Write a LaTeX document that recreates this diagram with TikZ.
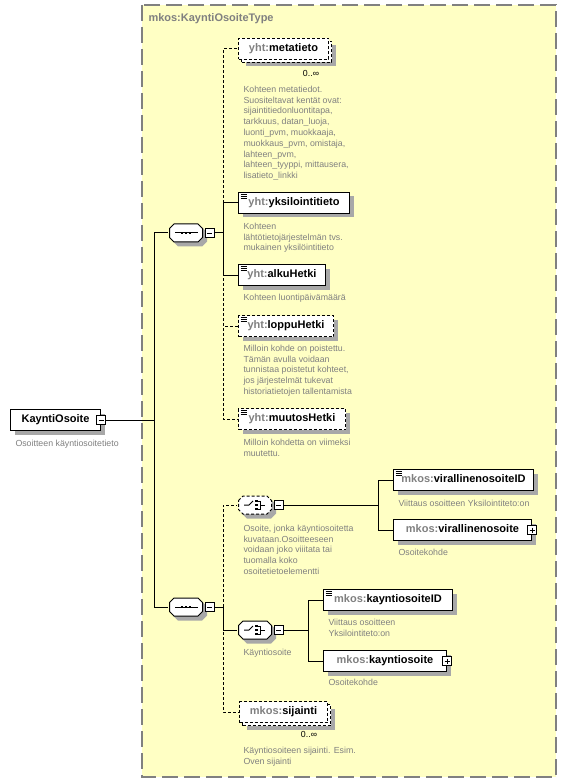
\documentclass[tikz,border=0pt]{standalone}
\usepackage{fontspec}
\setmainfont{Liberation Sans}
\usetikzlibrary{positioning}

\definecolor{typefill}{RGB}{255,255,196}
\definecolor{typeline}{RGB}{128,128,128}
\definecolor{docgray}{RGB}{128,128,128}
\definecolor{nsgray}{RGB}{128,128,128}
\definecolor{shadowgray}{RGB}{168,168,168}

\begin{document}
\begin{tikzpicture}[x=1pt, y=-1pt, line width=1pt,
    typebox/.style={draw=typeline, fill=typefill, line width=1.5pt, dash pattern=on 16pt off 6pt},
    title/.style={anchor=west, inner sep=0pt, text=nsgray, font=\fontsize{11}{13}\selectfont\bfseries},
    doc/.style={anchor=north west, inner sep=0pt, align=left, text=docgray, font=\fontsize{8.8}{10.8}\selectfont},
    card/.style={inner sep=0pt, font=\fontsize{8.8}{10.8}\selectfont},
    opt/.style={dash pattern=on 3pt off 2pt},
    elem/.style={draw, fill=white, anchor=west, minimum width=#1, minimum height=21pt, inner xsep=0pt,
      text height=8pt, text depth=2.5pt, font=\fontsize{11}{13}\selectfont\bfseries},
    multi/.style={elem=#1, opt},
    boxshadow/.style={fill=shadowgray, draw=none, anchor=west, minimum width=#1, minimum height=21pt, inner sep=0pt},
    simple/.style={path picture={
        \foreach \k in {2pt,4pt,6pt}
          \draw[solid, line width=0.7pt] ([shift={(2pt,-\k)}]path picture bounding box.north west) -- ++(6,0);}},
    tog/.style={draw, fill=white, minimum size=9pt, inner sep=0pt},
    minus/.style={tog, path picture={
        \draw[line width=0.8pt] ([xshift=2pt]path picture bounding box.west) -- ([xshift=-2pt]path picture bounding box.east);}},
    plus/.style={tog, path picture={
        \draw[line width=0.8pt] ([xshift=2pt]path picture bounding box.west) -- ([xshift=-2pt]path picture bounding box.east)
          ([yshift=-2pt]path picture bounding box.north) -- ([yshift=2pt]path picture bounding box.south);}},
    octo/.style={minimum width=35pt, minimum height=20pt, inner sep=0pt},
    octshadow/.style={octo, path picture={
        \fill[shadowgray, shift={(path picture bounding box.center)}]
          (-17,-4.5) -- (-12,-9.5) -- (12,-9.5) -- (17,-4.5) -- (17,4.5) -- (12,9.5) -- (-12,9.5) -- (-17,4.5) -- cycle;}},
    seq/.style={octo, path picture={
        \begin{scope}[shift={(path picture bounding box.center)}]
          \filldraw[fill=white] (-16.5,-4.5) -- (-12,-9) -- (12,-9) -- (16.5,-4.5) -- (16.5,4.5) -- (12,9) -- (-12,9) -- (-16.5,4.5) -- cycle;
          \draw[solid] (-11,0) -- (12,0);
          \foreach \d in {-4,0,4}
            \fill[black] (\d-1.4,-1.4) rectangle (\d+1.4,1.4);
        \end{scope}}},
    choice/.style={octo, path picture={
        \begin{scope}[shift={(path picture bounding box.center)}]
          \filldraw[fill=white] (-16.5,-4.5) -- (-12,-9) -- (12,-9) -- (16.5,-4.5) -- (16.5,4.5) -- (12,9) -- (-12,9) -- (-16.5,4.5) -- cycle;
          \draw[solid] (-11,0) -- (-6,0) -- (-2,-4);
          \foreach \d in {-4,0,4}
            \fill[black] (0,\d-1.3) rectangle (2.6,\d+1.3);
          \draw[solid] (3,-4) -- (5,-4) -- (5,4) -- (3,4) (5,0) -- (10,0);
        \end{scope}}}
  ]

  % Type box
  \fill[white, use as bounding box] (0,0) rectangle (566,783);
  \draw[typebox] (142,5) rectangle (556,777);
  \node[title] (tname) at (148,19) {mkos:KayntiOsoiteType};

  % Root element
  \node[boxshadow=90pt] at (14,424) {};
  \node[elem=90pt] (ko) at (10,420) {KayntiOsoite};
  \node[minus] (ko-m) at (ko.east) {};
  \node[doc] (ko-d) at (15,439.5) {Osoitteen käyntiosoitetieto};

  % First sequence
  \node[octshadow] at (190,237) {};
  \node[seq] (seq1) at (186,233) {};
  \node[minus, right=0.5pt of seq1] (seq1-m) {};

  \node[boxshadow=90pt] at (245,56) {};
  \node[multi=90pt] at (241,52) {};
  \node[multi=90pt] (meta) at (238,49) {\textcolor{nsgray}{yht:}metatieto};
  \node[card] (meta-n) at (311,73) {0..∞};
  \node[doc] (meta-d) at (243,85.5) {Kohteen metatiedot.\\ Suositeltavat kentät ovat:\\ sijaintitiedonluontitapa,\\
    tarkkuus, datan\_luoja,\\ luonti\_pvm, muokkaaja,\\ muokkaus\_pvm, omistaja,\\ lahteen\_pvm,\\
    lahteen\_tyyppi, mittausera,\\ lisatieto\_linkki};

  \node[boxshadow=111pt] at (242,207) {};
  \node[elem=111pt, simple] (yksil) at (238,203) {\textcolor{nsgray}{yht:}yksilointitieto};
  \node[doc] (yksil-d) at (243,222.5) {Kohteen\\ lähtötietojärjestelmän tvs.\\ mukainen yksilöintitieto};

  \node[boxshadow=87pt] at (242,279) {};
  \node[elem=87pt, simple] (alku) at (238,275) {\textcolor{nsgray}{yht:}alkuHetki};
  \node[doc] (alku-d) at (243,293.5) {Kohteen luontipäivämäärä};

  \node[boxshadow=95pt] at (242,330) {};
  \node[elem=95pt, simple, opt] (loppu) at (238,326) {\textcolor{nsgray}{yht:}loppuHetki};
  \node[doc] (loppu-d) at (243,344.5) {Milloin kohde on poistettu.\\ Tämän avulla voidaan\\ tunnistaa poistetut kohteet,\\
    jos järjestelmät tukevat\\ historiatietojen tallentamista};

  \node[boxshadow=107pt] at (242,423) {};
  \node[elem=107pt, simple, opt] (muutos) at (238,419) {\textcolor{nsgray}{yht:}muutosHetki};
  \node[doc] (muutos-d) at (243,438.5) {Milloin kohdetta on viimeksi\\ muutettu.};

  % Second sequence
  \node[octshadow] at (190,611) {};
  \node[seq] (seq2) at (186,607) {};
  \node[minus, right=0.5pt of seq2] (seq2-m) {};

  \node[octshadow] at (259,509) {};
  \node[choice, opt] (ch1) at (255,505) {};
  \node[minus, right=0.5pt of ch1] (ch1-m) {};
  \node[doc] (ch1-d) at (243,524.5) {Osoite, jonka käyntiosoitetta\\ kuvataan.Osoitteeseen\\ voidaan joko viiitata tai\\
    tuomalla koko\\ osoitetietoelementti};

  \node[boxshadow=140pt] at (397,484) {};
  \node[elem=140pt, simple] (vid) at (393,480) {\textcolor{nsgray}{mkos:}virallinenosoiteID};
  \node[doc] (vid-d) at (398,499.5) {Viittaus osoitteen Yksilointiteto:on};
  \node[boxshadow=138pt] at (397,534) {};
  \node[elem=138pt] (vos) at (393,530) {\textcolor{nsgray}{mkos:}virallinenosoite};
  \node[plus] (vos-p) at (vos.east) {};
  \node[doc] (vos-d) at (398,548.5) {Osoitekohde};

  \node[octshadow] at (259,634) {};
  \node[choice] (ch2) at (255,630) {};
  \node[minus, right=0.5pt of ch2] (ch2-m) {};
  \node[doc] (ch2-d) at (243,648.5) {Käyntiosoite};

  \node[boxshadow=129pt] at (327,604) {};
  \node[elem=129pt, simple] (kid) at (323,600) {\textcolor{nsgray}{mkos:}kayntiosoiteID};
  \node[doc] (kid-d) at (328,618.5) {Viittaus osoitteen\\ Yksilointiteto:on};
  \node[boxshadow=123pt] at (327,665) {};
  \node[elem=123pt] (kos) at (323,661) {\textcolor{nsgray}{mkos:}kayntiosoite};
  \node[plus] (kos-p) at (kos.east) {};
  \node[doc] (kos-d) at (328,678.5) {Osoitekohde};

  \node[boxshadow=88pt] at (246,719) {};
  \node[multi=88pt] at (242,715) {};
  \node[multi=88pt] (sij) at (239,712) {\textcolor{nsgray}{mkos:}sijainti};
  \node[card] (sij-n) at (309,734) {0..∞};
  \node[doc] (sij-d) at (243,746.5) {Käyntiosoiteen sijainti. Esim.\\ Oven sijainti};

  % Connectors
  \coordinate (j0) at (154,420);
  \coordinate (j1) at (223,233);
  \coordinate (j2) at (223,607);
  \coordinate (jc1) at (378,505);
  \coordinate (jc2) at (308,630);

  \draw (ko-m) -- (j0);
  \draw (j0) |- (seq1);
  \draw (j0) |- (seq2);

  \draw (seq1-m) -- (j1);
  \draw[opt] (j1) |- (meta);
  \draw[opt] (j1) |- (loppu);
  \draw[opt] (j1) |- (muutos);
  \draw (j1) |- (yksil);
  \draw (j1) |- (alku);

  \draw (seq2-m) -- (j2);
  \draw[opt] (j2) |- (ch1);
  \draw[opt] (j2) |- (sij);
  \draw (j2) |- (ch2);

  \draw (ch1-m) -- (jc1);
  \draw (jc1) |- (vid);
  \draw (jc1) |- (vos);

  \draw (ch2-m) -- (jc2);
  \draw (jc2) |- (kid);
  \draw (jc2) |- (kos);

\end{tikzpicture}
\end{document}
